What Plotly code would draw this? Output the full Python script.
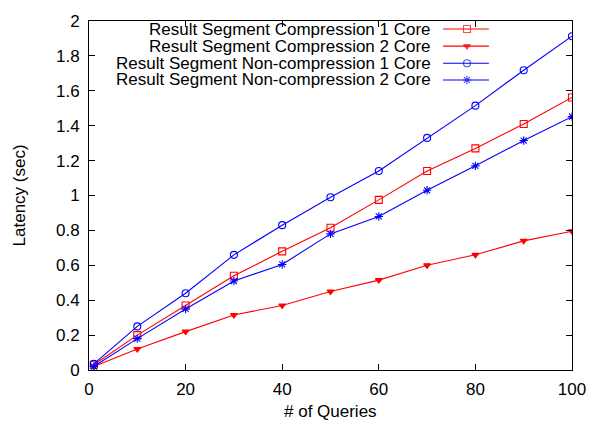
import plotly.graph_objects as go

queries = [1, 10, 20, 30, 40, 50, 60, 70, 80, 90, 100]
comp_1core = [0.03, 0.20, 0.37, 0.54, 0.68, 0.815, 0.975, 1.14, 1.27, 1.41, 1.562]
comp_2core = [0.02, 0.12, 0.22, 0.315, 0.37, 0.45, 0.515, 0.60, 0.66, 0.74, 0.795]
noncomp_1core = [0.035, 0.25, 0.44, 0.66, 0.83, 0.99, 1.14, 1.33, 1.515, 1.718, 1.913]
noncomp_2core = [0.02, 0.18, 0.35, 0.51, 0.605, 0.78, 0.88, 1.03, 1.17, 1.315, 1.452]

names = [
    "Result Segment Compression 1 Core",
    "Result Segment Compression 2 Core",
    "Result Segment Non-compression 1 Core",
    "Result Segment Non-compression 2 Core",
]
series = [comp_1core, comp_2core, noncomp_1core, noncomp_2core]
colors = ["#ff0000", "#ff0000", "#0000ff", "#0000ff"]
symbols = ["square-open", "triangle-down", "circle-open", "asterisk-open"]
sizes = [7, 6, 7, 7]

FONT = "Liberation Sans, Arial, Helvetica, sans-serif"
FS = 17

fig = go.Figure()
for name, ys, c, sym, sz in zip(names, series, colors, symbols, sizes):
    fig.add_trace(go.Scatter(
        x=queries, y=ys, mode="lines+markers", name=name,
        line=dict(color=c, width=1.1),
        marker=dict(symbol=sym, size=sz, color=c, line=dict(color=c, width=1.1)),
        showlegend=False,
    ))

# gnuplot-style key: text right-aligned, sample on the right
key_y = [0.977, 0.928, 0.879, 0.831]
for name, c, sym, sz, ky in zip(names, colors, symbols, sizes, key_y):
    fig.add_trace(go.Scatter(
        x=[0.733, 0.7826, 0.828], y=[ky, ky, ky], mode="lines+markers",
        xaxis="x2", yaxis="y2", showlegend=False, hoverinfo="skip",
        line=dict(color=c, width=1.1),
        marker=dict(symbol=sym, size=[0, sz, 0], color=c, line=dict(color=c, width=1.1)),
    ))
    fig.add_annotation(x=0.71, y=ky, xref="x2", yref="y2", text=name,
                       showarrow=False, xanchor="right", yanchor="middle", borderpad=0,
                       font=dict(family=FONT, size=FS, color="black"))

# axis titles placed like gnuplot's
fig.add_annotation(x=0.5, y=-0.119, xref="paper", yref="paper", text="# of Queries",
                   showarrow=False, xanchor="center", yanchor="middle",
                   font=dict(family=FONT, size=FS, color="black"))
fig.add_annotation(x=-0.143, y=0.5, xref="paper", yref="paper", text="Latency (sec)",
                   showarrow=False, xanchor="center", yanchor="middle", textangle=-90,
                   font=dict(family=FONT, size=FS, color="black"))

axis_common = dict(
    showgrid=False, zeroline=False, showline=True, linecolor="black", linewidth=1,
    mirror="ticks", ticks="inside", ticklen=6, tickwidth=1, tickcolor="black",
    tickfont=dict(family=FONT, size=FS, color="black"),
)
fig.update_layout(
    width=599, height=423,
    margin=dict(l=89, r=27, t=17, b=53),
    paper_bgcolor="white", plot_bgcolor="white",
    font=dict(family=FONT, size=FS, color="black"),
    xaxis=dict(range=[0, 100], dtick=20, ticklabelstandoff=4, **axis_common),
    yaxis=dict(range=[0, 2], dtick=0.2, tickformat="~g", ticklabelstandoff=5, **axis_common),
    xaxis2=dict(overlaying="x", range=[0, 1], visible=False),
    yaxis2=dict(overlaying="y", range=[0, 1], visible=False),
    showlegend=False,
)

fig.write_html("out.html")
